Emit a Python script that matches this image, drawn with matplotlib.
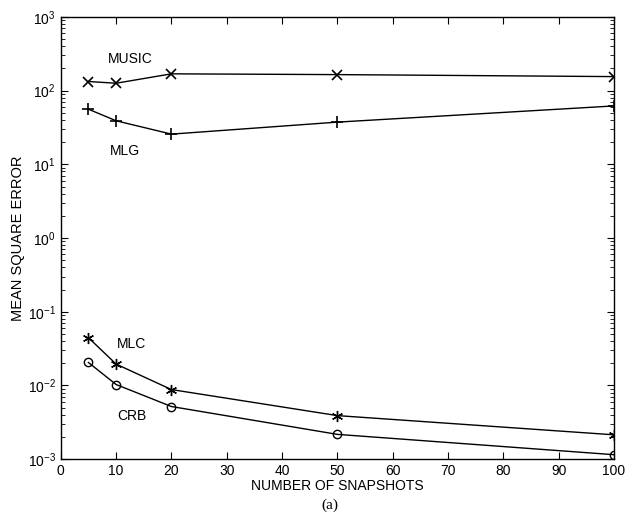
import numpy as np
import matplotlib
matplotlib.use('Agg')
import matplotlib.pyplot as plt

plt.rcParams['font.family'] = ['Liberation Sans', 'DejaVu Sans']
plt.rcParams['mathtext.fontset'] = 'custom'
plt.rcParams['mathtext.rm'] = 'Liberation Sans'

# data
snapshots = [5, 10, 20, 50, 100]
mse_music = [133, 126, 169, 165, 155]
mse_mlg = [56, 39, 25.7, 37.4, 62]
mse_mlc = [0.0445, 0.0195, 0.0088, 0.0039, 0.00214]
mse_crb = [0.0205, 0.0103, 0.00518, 0.00217, 0.00115]

fig = plt.figure(figsize=(6.33, 5.29), dpi=100)
ax = fig.add_axes([0.096, 0.132, 0.874, 0.836])

lw = 1.0
ax.plot(snapshots, mse_music, color='black', lw=lw, marker='x', ms=7, mew=1.2)
ax.plot(snapshots, mse_mlg, color='black', lw=lw, marker='+', ms=8, mew=1.2)
ax.plot(snapshots, mse_mlc, color='black', lw=lw, marker=(6, 2, 0), ms=8, mew=1.0)
ax.plot(snapshots, mse_crb, color='black', lw=lw, marker='o', ms=6, mew=1.0,
        mfc='none')

# curve labels
lab = dict(fontsize=10, ha='center', va='center')
ax.text(12.5, 265, 'MUSIC', **lab)
ax.text(11.6, 15.2, 'MLG', **lab)
ax.text(12.7, 0.036, 'MLC', **lab)
ax.text(12.8, 0.0039, 'CRB', **lab)

ax.set_yscale('log')
ax.set_xlim(0, 100)
ax.set_ylim(1e-3, 1e3)
ax.set_xticks(np.arange(0, 101, 10))
ax.set_yticks([1e-3, 1e-2, 1e-1, 1e0, 1e1, 1e2, 1e3])
ax.tick_params(which='both', direction='in', top=True, right=True,
               labelsize=10)
ax.tick_params(which='major', length=5)
ax.tick_params(which='minor', length=3)
for s in ax.spines.values():
    s.set_linewidth(1.0)

ax.set_xlabel('NUMBER OF SNAPSHOTS', fontsize=10, labelpad=1)
ax.set_ylabel('MEAN SQUARE ERROR', fontsize=10.5, labelpad=2)

fig.text(0.521, 0.045, '(a)', fontsize=11, family='Liberation Serif',
         ha='center', va='center')

fig.savefig('out.png', dpi=100)
